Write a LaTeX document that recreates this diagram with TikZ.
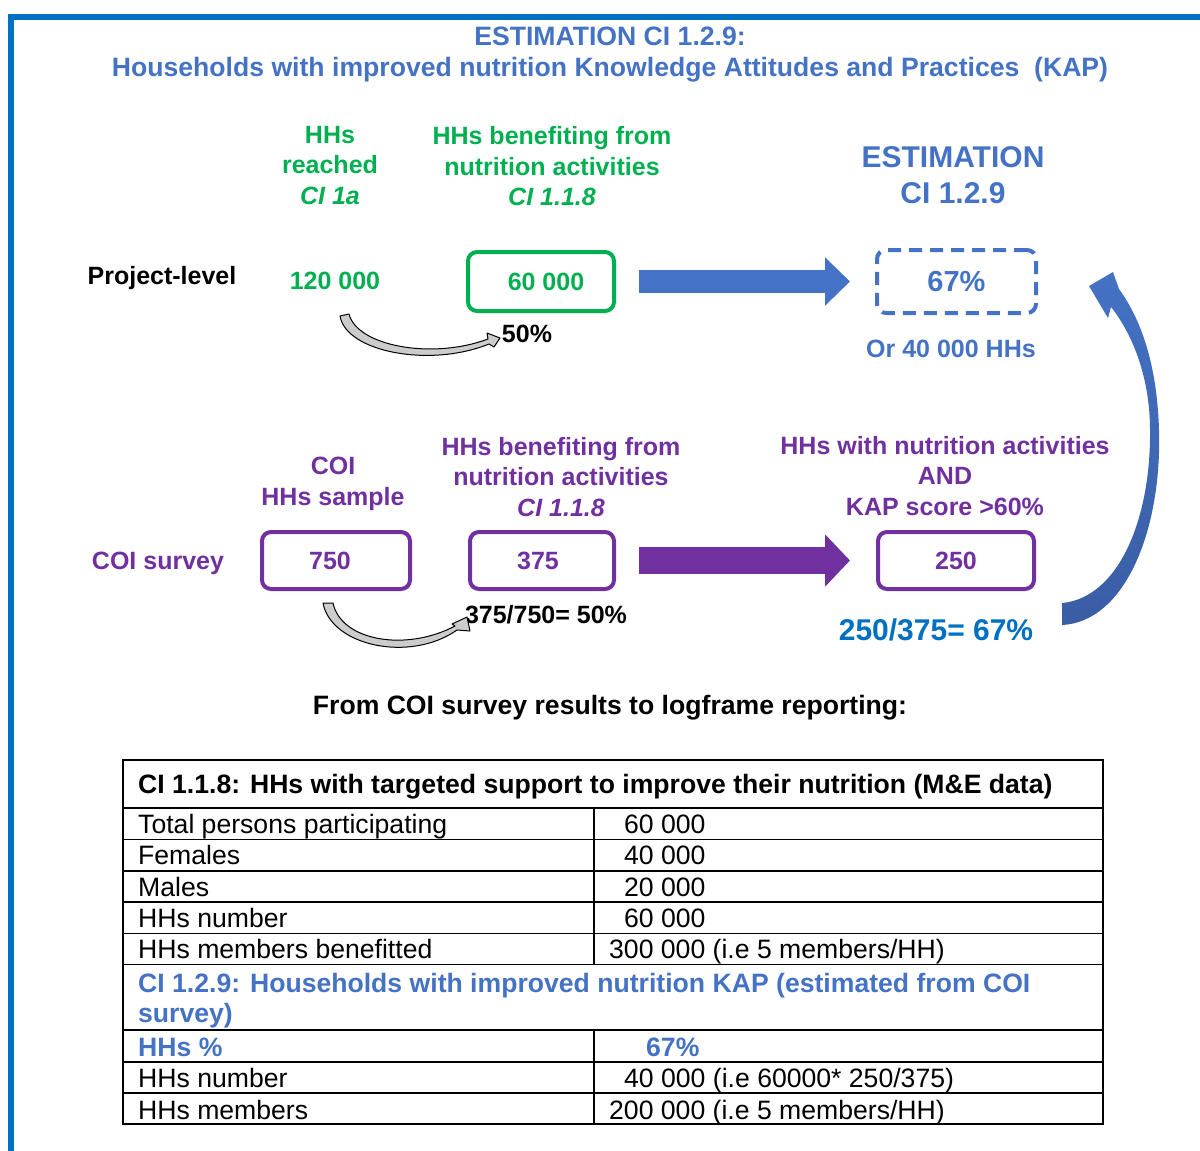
\documentclass[tikz,border=0pt]{standalone}
\usepackage{fontspec}
\setmainfont{Liberation Sans}
\usetikzlibrary{arrows.meta}
\definecolor{tblue}{HTML}{4472C4}
\definecolor{fblue}{HTML}{0070C0}
\definecolor{cgreen}{HTML}{00B050}
\definecolor{cpurple}{HTML}{7030A0}
\definecolor{dblue}{HTML}{3A5DA5}
\newcommand\fsTitle{\fontsize{26.6}{31}\selectfont}
\newcommand\fsBody{\fontsize{25}{30.5}\selectfont}
\newcommand\fsBig{\fontsize{30}{36}\selectfont}
\newcommand\fsTab{\fontsize{26.6}{31}\selectfont}
\begin{document}
\begin{tikzpicture}[x=1pt,y=-1pt,
  lbl/.style={inner sep=0pt, align=center, font=\bfseries\fsBody},
  bl/.style={inner sep=0pt, anchor=base, font=\bfseries\fsBody},
  gbox/.style={draw=cgreen, line width=4pt, rounded corners=9pt, inner sep=0pt, text=cgreen, font=\bfseries\fsBody},
  pbox/.style={draw=cpurple, line width=4pt, rounded corners=9pt, inner sep=0pt, text=cpurple, font=\bfseries\fsBody},
  dbox/.style={draw=tblue, line width=4pt, rounded corners=9pt, inner sep=0pt, text=tblue, dash pattern=on 13pt off 8pt, font=\bfseries\fontsize{29}{34}\selectfont},
  blockarrow/.style={line width=23pt, -{Triangle[length=25pt, width=47pt]}},
  purplearrow/.style={line width=27pt, -{Triangle[length=25pt, width=51pt]}},
  smallarrow/.style={fill=gray!40, draw=black, line width=1pt, line join=round},
  tline/.style={line width=1.4pt},
  tcell/.style={inner sep=0pt, anchor=base west, font=\fsTab},
  tbold/.style={inner sep=0pt, anchor=base west, font=\bfseries\fsTab}
]
\useasboundingbox (0,0) rectangle (1200,1151);
% frame
\fill[fblue] (8,14) rectangle (1200,20);
\fill[fblue] (8,14) rectangle (14,1151);

% title
\node[bl, font=\bfseries\fsTitle, text=tblue] (t1) at (610,45.5) {ESTIMATION CI 1.2.9:};
\node[bl, font=\bfseries\fsTitle, text=tblue] (t2) at (610,76.5) {Households with improved nutrition Knowledge Attitudes and Practices\ \ (KAP)};

% project-level row
\node[lbl, text=cgreen] (gA) at (330,165.5) {HHs\\reached\\\textit{CI 1a}};
\node[lbl, text=cgreen] (gB) at (552,166.5) {HHs benefiting from\\nutrition activities\\\textit{CI 1.1.8}};
\node[lbl, font=\bfseries\fsBig, text=tblue] (est) at (953,175.5) {ESTIMATION\\CI 1.2.9};
\node[bl] (proj) at (162,284) {Project-level};
\node[bl, text=cgreen] (n120) at (335,289) {120 000};
\node[gbox, minimum width=146pt, minimum height=59pt] (b60) at (541,281.5) {\hspace*{10pt}60 000};
\node[dbox, minimum width=159pt, minimum height=63pt] (b67) at (956.5,281.5) {67\%};
\node[bl, text=tblue] (or40) at (951,357) {Or 40 000 HHs};
\node[bl] (p50) at (527,342) {50\%};
\draw[blockarrow, tblue] ([xshift=23pt]b60.east) -- ([xshift=-25pt]b67.west);

% small curved arrow 1
\draw[smallarrow] (340,316) .. controls (346,352) and (430,368) .. (489,344)
  -- (494,347) -- (500,338) -- (487,333) -- (488,339)
  .. controls (432,360) and (357,346) .. (349,314) -- cycle;

% COI survey row
\node[lbl, text=cpurple] (pA) at (333,484) {COI\\HHs sample};
\node[lbl, text=cpurple] (pB) at (561,477) {HHs benefiting from\\nutrition activities\\\textit{CI 1.1.8}};
\node[lbl, text=cpurple] (pC) at (945,476) {HHs with nutrition activities\\AND\\KAP score >60\%};
\node[bl, text=cpurple] (coi) at (158,569) {COI survey};
\node[pbox, minimum width=148pt, minimum height=57pt] (b750) at (336,560.5) {750\hspace*{12pt}};
\node[pbox, minimum width=144pt, minimum height=57pt] (b375) at (542,560.5) {375\hspace*{8pt}};
\node[pbox, minimum width=156pt, minimum height=57pt] (b250) at (956,560.5) {250};
\draw[purplearrow, cpurple] ([xshift=23pt]b375.east) -- ([xshift=-26pt]b250.west);
\node[bl] (r375) at (546,623) {375/750= 50\%};
\node[bl, font=\bfseries\fsBig, text=fblue] (r250) at (936,640) {250/375= 67\%};

% small curved arrow 2
\draw[smallarrow] (323,603) .. controls (331,646) and (410,663) .. (457,630)
  -- (470,631) -- (467,617) -- (452,624) -- (455,626)
  .. controls (406,652) and (341,641) .. (333,603) -- cycle;

% big curved arrow back to estimation
\shade[top color=tblue, bottom color=dblue, draw=none]
  (1062,625) .. controls (1125,622) and (1162,530) .. (1159,430)
  .. controls (1157,362) and (1140,318) .. (1119,289)
  -- (1113,272) -- (1089,286) -- (1108,318) -- (1111,307)
  .. controls (1134,336) and (1150,380) .. (1150,430)
  .. controls (1151,520) and (1118,598) .. (1062,603) -- cycle;

% heading above table
\node[bl, font=\bfseries\fsTitle] (from) at (610,714) {From COI survey results to logframe reporting:};

% table
\draw[tline] (123,760) rectangle (1103,1124);
\foreach \yy in {808,839.5,871,902,933.5,964.5,1030,1062,1093}
  \draw[tline] (123,\yy) -- (1103,\yy);
\draw[tline] (594,808) -- (594,964.5);
\draw[tline] (594,1030) -- (594,1124);

\node[tbold] (h1) at (138,793.5) {CI 1.1.8: HHs with targeted support to improve their nutrition (M\&E data)};
\node[tcell] (r1a) at (138,833.5) {Total persons participating};
\node[tcell] (r1b) at (624,833.5) {60 000};
\node[tcell] (r2a) at (138,864.5) {Females};
\node[tcell] (r2b) at (624,864.5) {40 000};
\node[tcell] (r3a) at (138,896.5) {Males};
\node[tcell] (r3b) at (624,896.5) {20 000};
\node[tcell] (r4a) at (138,927.5) {HHs number};
\node[tcell] (r4b) at (624,927.5) {60 000};
\node[tcell] (r5a) at (138,958.5) {HHs members benefitted};
\node[tcell] (r5b) at (609,958.5) {300 000 (i.e 5 members/HH)};
\node[tbold, text=tblue] (h2a) at (138,992.5) {CI 1.2.9: Households with improved nutrition KAP (estimated from COI};
\node[tbold, text=tblue] (h2b) at (138,1022.5) {survey)};
\node[tbold, text=tblue] (r6a) at (138,1056.5) {HHs \%};
\node[tbold, text=tblue] (r6b) at (646,1056.5) {67\%};
\node[tcell] (r7a) at (138,1087.5) {HHs number};
\node[tcell] (r7b) at (624,1087.5) {40 000 (i.e 60000* 250/375)};
\node[tcell] (r8a) at (138,1119.5) {HHs members};
\node[tcell] (r8b) at (609,1119.5) {200 000 (i.e 5 members/HH)};
\end{tikzpicture}
\end{document}
